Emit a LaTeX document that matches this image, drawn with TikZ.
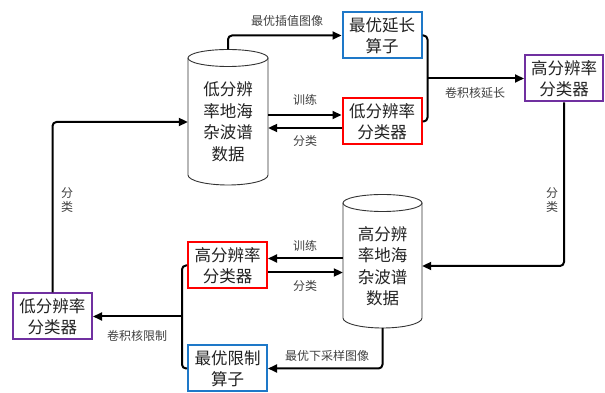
\documentclass[tikz,border=0pt]{standalone}
\usepackage{fontspec}
\setmainfont{Noto Sans CJK SC}
\usetikzlibrary{arrows.meta,calc}
\definecolor{bxblue}{HTML}{1E78C8}
\definecolor{bxred}{HTML}{FF0000}
\definecolor{bxpurple}{HTML}{7030A0}
\definecolor{lbl}{HTML}{404040}
\definecolor{txt}{HTML}{222222}
\tikzset{
  x=1pt,y=1pt,
  box/.style={draw,line width=2pt,fill=white,minimum width=79pt,minimum height=46pt,text=txt,
    inner sep=0pt,align=center,font=\fontsize{16.5}{21}\selectfont},
  bluebox/.style={box,draw=bxblue},
  redbox/.style={box,draw=bxred},
  purbox/.style={box,draw=bxpurple},
  cyltext/.style={minimum width=80pt,inner sep=0pt,align=center,text=txt,font=\fontsize{16.5}{21.5}\selectfont},
  cylline/.style={draw=black!80,line width=0.9pt},
  conn/.style={line width=2pt,rounded corners=4pt},
  arr/.style={conn,-{Triangle[length=9pt,width=8pt]}},
  lab/.style={text=lbl,font=\fontsize{12}{14}\selectfont,inner sep=0pt,align=center}
}
\begin{document}
\begin{tikzpicture}
\useasboundingbox (0,0) rectangle (605,393);
% top cylinder
\draw[cylline,fill=white] (188,335) -- (188,218) arc[start angle=180,end angle=360,x radius=40,y radius=10] -- (268,335);
\draw[cylline] (228,335) ellipse[x radius=40,y radius=8.5];
\node[cyltext] (cylT) at (228,271) {低分辨\\率地海\\杂波谱\\数据};
\coordinate (cylTtop) at (228,343.5);
% bottom cylinder
\draw[cylline,fill=white] (343,190) -- (343,75) arc[start angle=180,end angle=360,x radius=39.5,y radius=10] -- (422,190);
\draw[cylline] (382.5,190) ellipse[x radius=39.5,y radius=8.5];
\node[cyltext,minimum width=79pt] (cylB) at (382.5,127) {高分辨\\率地海\\杂波谱\\数据};
\coordinate (cylBbot) at (382.5,65);
% boxes
\node[bluebox] (blueT) at (382,357.5) {最优延长\\算子};
\node[redbox]  (redT)  at (382,271.5) {低分辨率\\分类器};
\node[purbox,minimum width=78pt] (purR) at (564,314.5) {高分辨率\\分类器};
\node[purbox] (purL) at (52.5,76.5) {低分辨率\\分类器};
\node[redbox]  (redB)  at (227.5,127.5) {高分辨率\\分类器};
\node[bluebox] (blueB) at (227.5,24.5) {最优限制\\算子};
% junctions
\path (blueT.east) ++(5,0) coordinate (jRx);
\coordinate (jR) at (jRx |- purR.west);
\path (redB.west) ++(-5,0) coordinate (jLx);
\coordinate (jL) at (jLx |- purL.east);
% connectors top
\draw[arr] ($(cylT.east |- redT.west)+(0,6.5)$) -- ($(redT.west)+(0,6.5)$);
\draw[arr] ($(redT.west)+(0,-6.5)$) -- ($(cylT.east |- redT.west)+(0,-6.5)$);
\draw[arr] (cylTtop) |- (blueT.west);
\draw[conn] (blueT.east) -| (jR) |- (redT.east);
\draw[arr] (jR) -- (purR.west);
\draw[arr] (purR.south) |- (cylB.east);
% connectors bottom
\draw[arr] ($(cylB.west |- redB.east)+(0,7)$) -- ($(redB.east)+(0,7)$);
\draw[arr] ($(redB.east)+(0,-7)$) -- ($(cylB.west |- redB.east)+(0,-7)$);
\draw[arr] (cylBbot) |- (blueB.east);
\draw[conn] (redB.west) -| (jL) |- (blueB.west);
\draw[arr] (jL) -- (purL.east);
\draw[arr] (purL.north) |- (cylT.west);
% labels
\node[lab] (l1) at (287,372) {最优插值图像};
\node[lab] (l2) at (305,293) {训练};
\node[lab] (l3) at (305,252) {分类};
\node[lab] (l4) at (475,300) {卷积核延长};
\node[lab] (l5) at (552,193) {分\\类};
\node[lab] (l6) at (305,147) {训练};
\node[lab] (l7) at (305,107) {分类};
\node[lab] (l8) at (327,37) {最优下采样图像};
\node[lab] (l9) at (137,57) {卷积核限制};
\node[lab] (l10) at (67,193) {分\\类};
\end{tikzpicture}
\end{document}
